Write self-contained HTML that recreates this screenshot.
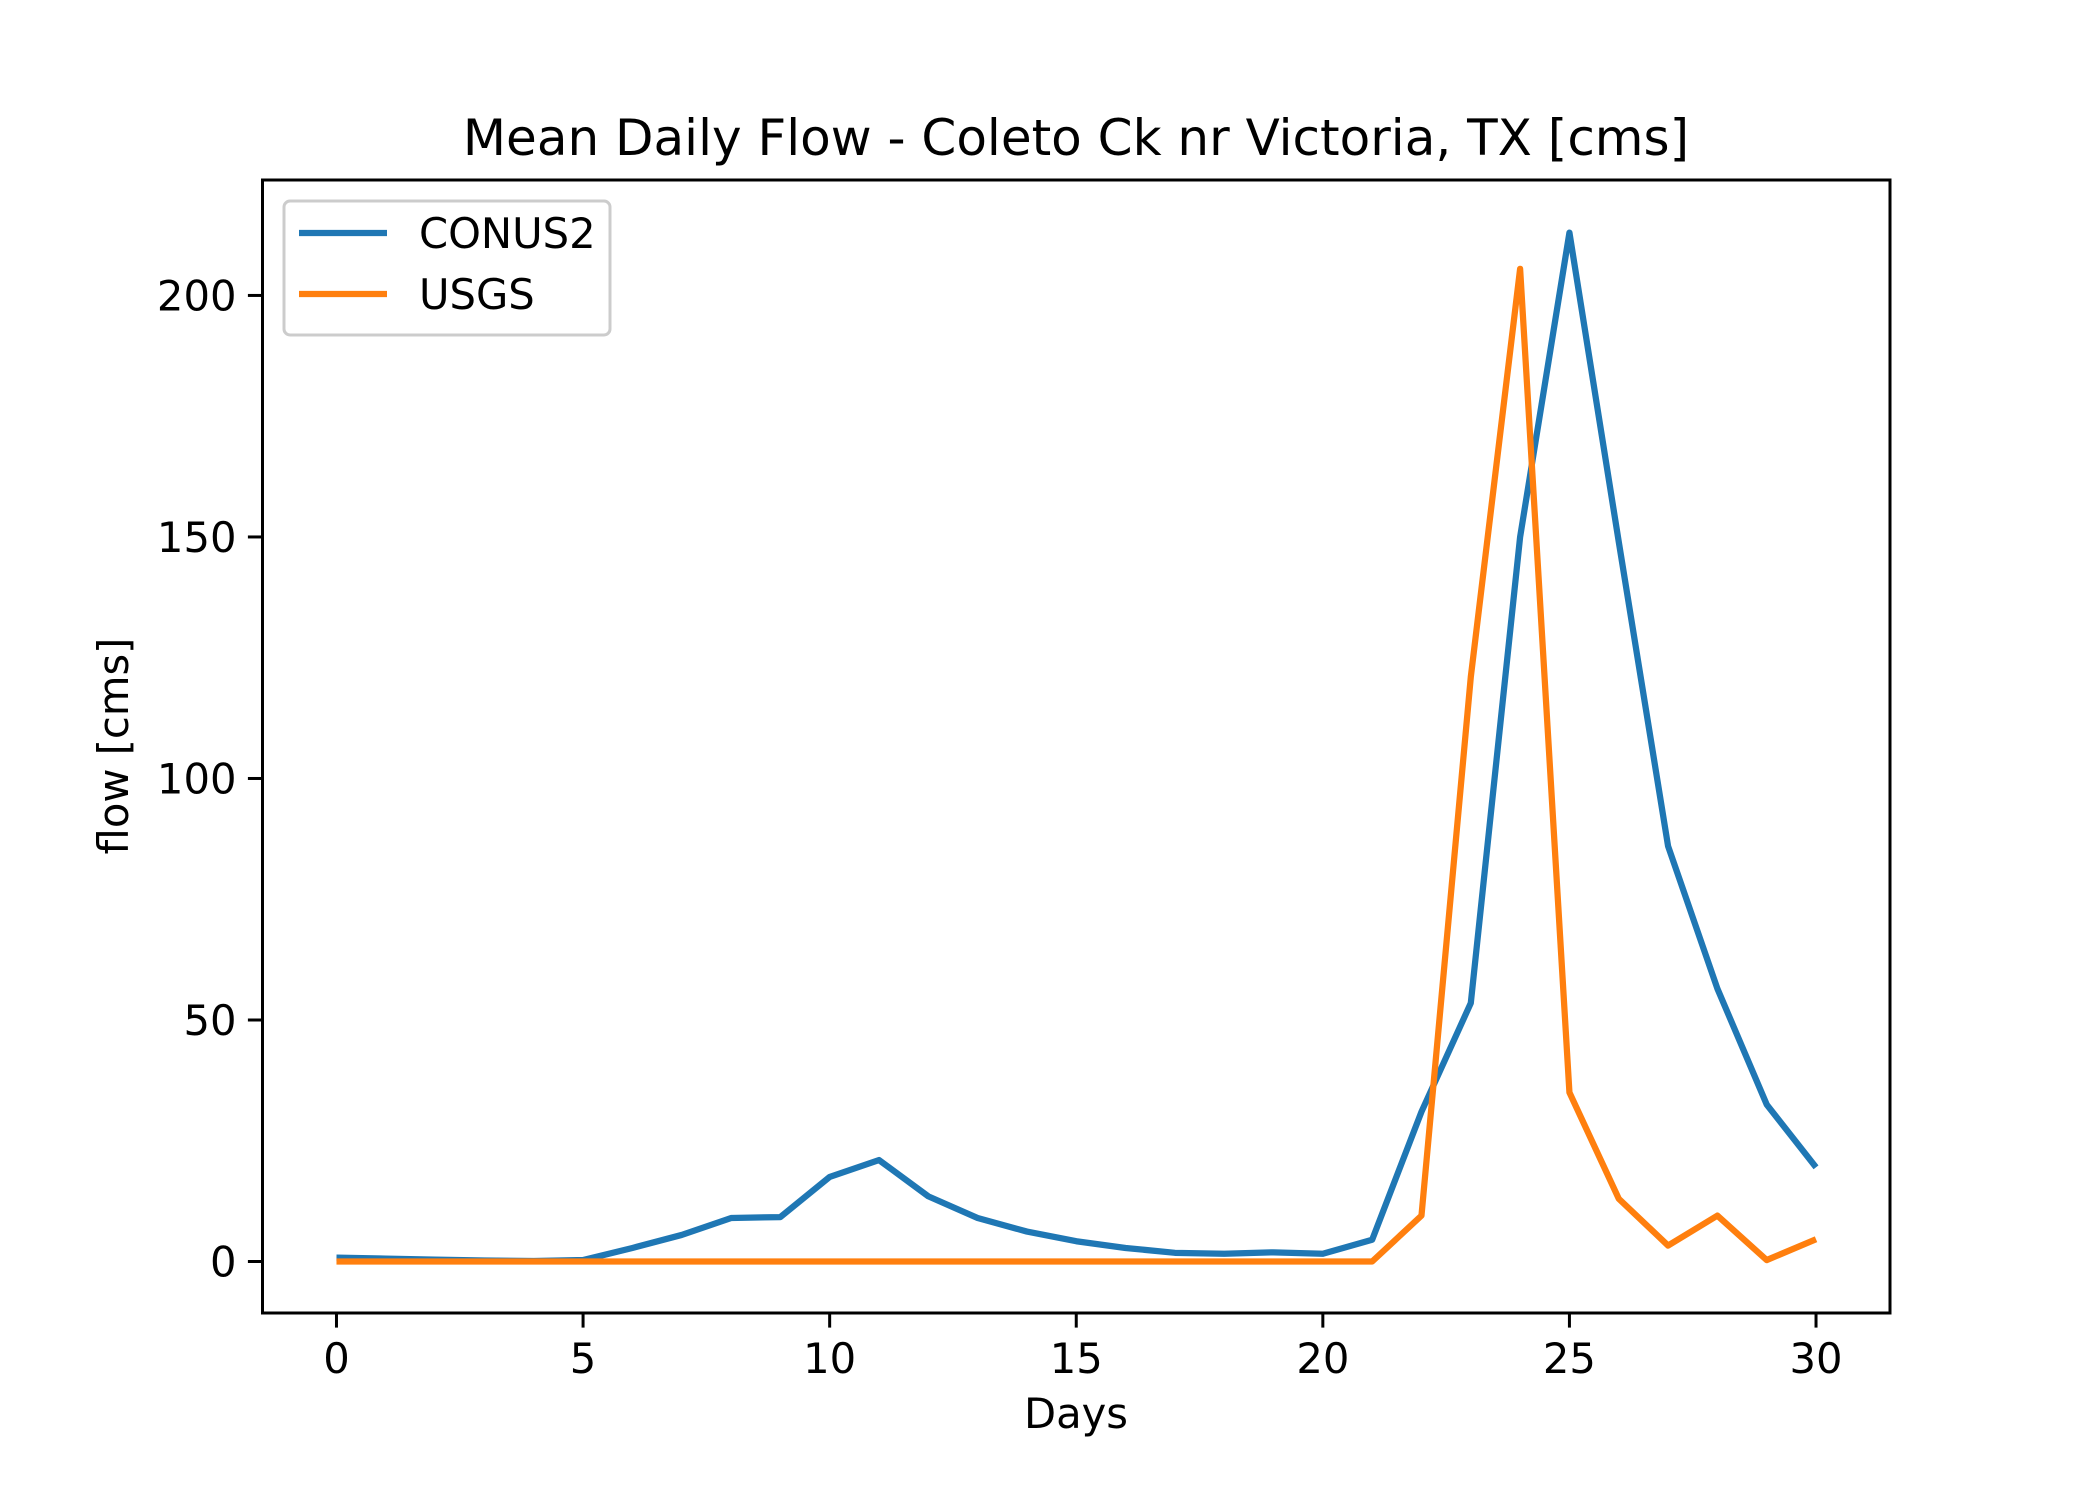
<!DOCTYPE html>
<html><head><meta charset="utf-8"><style>body{margin:0;background:#fff}svg{display:block}text{font-family:"DejaVu Sans","Liberation Sans",sans-serif;fill:#000}</style></head>
<body>
<svg id="chart" width="2100" height="1500">
<rect width="2100" height="1500" fill="#fff"/>
<text x="1076" y="155" font-size="50" text-anchor="middle">Mean Daily Flow - Coleto Ck nr Victoria, TX [cms]</text>
<text x="1076" y="1428" font-size="41.7" text-anchor="middle">Days</text>
<text transform="translate(128,746) rotate(-90)" font-size="41.7" text-anchor="middle">flow [cms]</text>
<g id="plot"></g>
<rect x="262.5" y="180" width="1627.5" height="1133" fill="none" stroke="#000" stroke-width="3"/>
<g>
<rect x="284" y="201" width="326" height="134" rx="6" fill="#fff" fill-opacity="0.8" stroke="#ccc" stroke-width="3"/>
<line x1="299" y1="233" x2="387" y2="233" stroke="#1f77b4" stroke-width="6.25"/>
<text x="419" y="248" font-size="41.7">CONUS2</text>
<line x1="299" y1="294" x2="387" y2="294" stroke="#ff7f0e" stroke-width="6.25"/>
<text x="419" y="309" font-size="41.7">USGS</text>
</g>
</svg>
<script>
const days = [0,1,2,3,4,5,6,7,8,9,10,11,12,13,14,15,16,17,18,19,20,21,22,23,24,25,26,27,28,29,30];
const conus2 = [0.8,0.6,0.4,0.2,0.1,0.3,2.8,5.5,9,9.2,17.5,21,13.5,9,6.2,4.2,2.8,1.8,1.6,1.9,1.6,4.5,31,53.5,150,213,149,86,56.5,32.5,19.5];
const usgs = [0,0,0,0,0,0,0,0,0,0,0,0,0,0,0,0,0,0,0,0,0,0,9.5,121,205.5,35,13,3.3,9.5,0.3,4.6];
const xTicks = [0,5,10,15,20,25,30];
const yTicks = [0,50,100,150,200];
const X0=262.5,X1=1890,Y0=1313,Y1=180;
const xmin=-1.5,xmax=31.5,ymin=-10.66,ymax=223.9;
const sx=v=>X0+(v-xmin)/(xmax-xmin)*(X1-X0);
const sy=v=>Y0-(v-ymin)/(ymax-ymin)*(Y0-Y1);
const NS="http://www.w3.org/2000/svg";
const g=document.getElementById('plot');
function mk(t,a){const e=document.createElementNS(NS,t);for(const k in a)e.setAttribute(k,a[k]);g.appendChild(e);return e;}
xTicks.forEach(v=>{
 const l=mk('line',{x1:sx(v),x2:sx(v),y1:Y0,y2:Y0+14.6,stroke:'#000','stroke-width':3});
 
 
 const t=mk('text',{x:sx(v),y:Y0+60,'font-size':41.7,'text-anchor':'middle'});
 t.textContent=v;
 
 
});
yTicks.forEach(v=>{
 const l=mk('line',{x1:X0-14.6,x2:X0,y1:sy(v),y2:sy(v),stroke:'#000','stroke-width':3});
 
 
 const t=mk('text',{x:X0-26,y:sy(v)+15,'font-size':41.7,'text-anchor':'end'});
 t.textContent=v;
 
 
});
function series(vals,color,name){
 const p=mk('polyline',{points:vals.map((v,i)=>sx(days[i])+','+sy(v)).join(' '),fill:'none',stroke:color,'stroke-width':6.25,'stroke-linejoin':'round'});
 
 
}
series(conus2,'#1f77b4','conus2-line');
series(usgs,'#ff7f0e','usgs-line');
</script>
</body></html>
